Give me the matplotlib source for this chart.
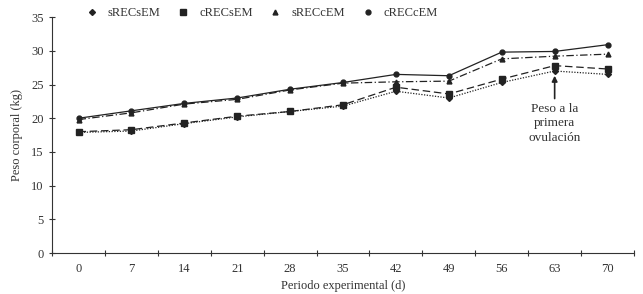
import matplotlib
matplotlib.use("Agg")
import matplotlib.pyplot as plt
import numpy as np

dias = ["0", "7", "14", "21", "28", "35", "42", "49", "56", "63", "70"]
sRECsEM = [17.9, 18.1, 19.2, 20.2, 21.0, 21.8, 24.0, 23.0, 25.3, 27.0, 26.5]
cRECsEM = [18.0, 18.3, 19.3, 20.3, 21.0, 22.0, 24.6, 23.6, 25.8, 27.8, 27.3]
sRECcEM = [19.8, 20.8, 22.1, 22.8, 24.2, 25.2, 25.4, 25.5, 28.8, 29.2, 29.5]
cRECcEM = [20.0, 21.1, 22.2, 23.0, 24.3, 25.3, 26.5, 26.3, 29.8, 29.9, 30.9]

plt.rcParams["font.family"] = ["Liberation Serif", "DejaVu Serif"]

fig = plt.figure(figsize=(6.43, 2.94), dpi=100)
ax = fig.add_axes([0.081, 0.139, 0.905, 0.803])
x = np.arange(len(dias))

ax.plot(x, sRECsEM, color="#222222", ls=(0, (1, 1.2)), lw=0.9, marker="D", ms=3, label="sRECsEM")
ax.plot(x, cRECsEM, color="#222222", ls=(0, (6, 3)), lw=0.9, marker="s", ms=4.5, label="cRECsEM")
ax.plot(x, sRECcEM, color="#222222", ls=(0, (6, 2, 1, 2)), lw=0.9, marker="^", ms=3.5, label="sRECcEM")
ax.plot(x, cRECcEM, color="#222222", ls="-", lw=0.9, marker="o", ms=3.5, label="cRECcEM")

ax.annotate("Peso a la\nprimera\novulación", xy=(9, 26.3), xytext=(9, 22.3),
            ha="center", va="top", fontsize=9.5, color="#333333", linespacing=1.3,
            arrowprops=dict(arrowstyle="-|>", color="#222222", lw=1.2, mutation_scale=8,
                            shrinkA=1, shrinkB=0))

ax.set_xlim(-0.5, len(dias) - 0.5)
ax.set_ylim(0, 35)
ax.set_yticks(range(0, 36, 5))
ax.set_xticks(np.arange(-0.5, len(dias), 1.0))
ax.set_xticklabels([])
ax.set_xticks(x, minor=True)
ax.set_xticklabels(dias, minor=True)
ax.tick_params(axis="x", which="minor", length=0, pad=7)
ax.tick_params(axis="both", which="major", direction="inout", length=5, width=0.8, labelsize=9, colors="#333333")
ax.tick_params(axis="x", which="minor", labelsize=9, colors="#333333")
for s in ["top", "right"]:
    ax.spines[s].set_visible(False)
for s in ["left", "bottom"]:
    ax.spines[s].set_color("#333333")

ax.set_xlabel("Periodo experimental (d)", fontsize=9, color="#333333", labelpad=4)
ax.set_ylabel("Peso corporal (kg)", fontsize=9, color="#333333", labelpad=6)

leg = ax.legend(loc="upper left", bbox_to_anchor=(0.038, 1.09), ncol=4, frameon=False,
                fontsize=9, handlelength=1.0, columnspacing=1.3, handletextpad=0.8)
for line in leg.get_lines():
    line.set_linestyle("none")
for t in leg.get_texts():
    t.set_color("#333333")

fig.savefig("out.png", dpi=100)
